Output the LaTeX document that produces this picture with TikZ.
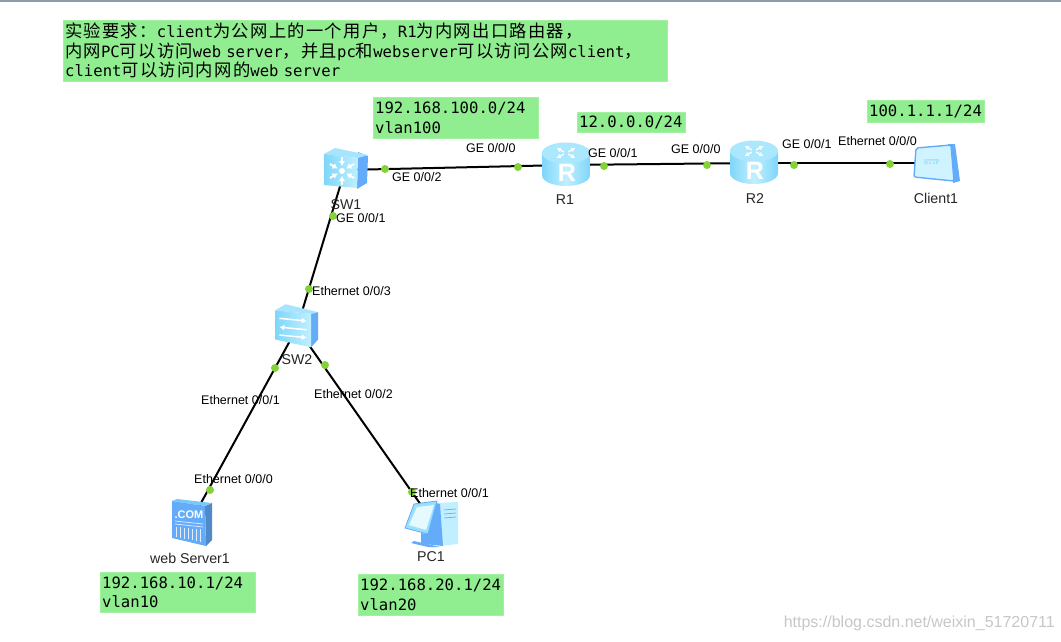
\documentclass[tikz,border=0pt]{standalone}
\usepackage{fontspec}
\setmainfont{Liberation Sans}
\newfontfamily\monof[WordSpace={1,0,0}]{DejaVu Sans Mono}
\newfontfamily\cjk[Kerning=Off,LetterSpace=7.5]{Noto Sans CJK SC}
\newcommand{\cj}[1]{{\fontsize{17.3}{19.6}\cjk #1}}
\definecolor{notegreen}{HTML}{90EE90}
\definecolor{dotgreen}{HTML}{84D13A}
\definecolor{iconlight}{HTML}{C0F0FF}
\definecolor{iconmid}{HTML}{7FD6FA}
\definecolor{iconblue}{HTML}{64ACFA}
\definecolor{topline}{HTML}{8C9BA8}
\usetikzlibrary{arrows.meta}
\tikzset{
  x=1pt,y=-1pt,
  note/.style={rectangle,fill=notegreen,draw=notegreen!85!white,line width=0.4pt,anchor=north west,inner xsep=2pt,inner ysep=0pt,align=left,font=\fontsize{15.6}{19.6}\selectfont\monof},
  port/.style={font=\fontsize{12.5}{14}\selectfont,text=black,inner sep=0pt},
  devname/.style={font=\fontsize{14.2}{16}\selectfont,text=black!85,inner sep=0pt},
  device/.style={inner sep=0pt,minimum size=4pt},
  link/.style={line width=2pt,black},
  dot/.style={circle,fill=dotgreen,inner sep=0pt,minimum size=8pt},
  routericon/.pic={
    \shade[left color=iconmid,right color=iconmid,middle color=iconlight]
      (-24,-12) -- (-24,10) .. controls (-24,17) and (-12,21) .. (0,21)
      .. controls (12,21) and (24,17) .. (24,10) -- (24,-12) -- cycle;
    \fill[iconlight!70!iconmid] (0,-12) ellipse [x radius=24,y radius=10.5];
    \foreach \a in {45,135,225,315}
      \draw[white,line width=1.3pt,-{Latex[length=4pt,width=5pt]}] (\a:3 and 1.5) ++(0,-12) -- ++(\a:10 and 5.5);
    \node[white,inner sep=0pt,font=\fontsize{25}{25}\selectfont\bfseries] at (1,8) {R};
  },
  switchicon/.pic={
    \fill[iconblue] (13,-18) -- (23,-14) -- (22,13) -- (12,19) -- cycle;
    \fill[iconlight!60!iconmid] (-21,-16) -- (-10,-22) -- (23,-15) -- (13,-12) -- cycle;
    \shade[left color=iconmid,right color=iconlight] (-21,-16) -- (13,-12) -- (12,18) -- (-21,15) -- cycle;
  }
}
\begin{document}
\begin{tikzpicture}
\useasboundingbox (0,0) rectangle (1061,641);
\fill[white] (0,0) rectangle (1061,641);
\fill[topline] (0,0) rectangle (1061,1.6);
% notes
\node[note,minimum width=604pt,minimum height=61pt,text width=600pt] (req) at (63,20) {\cj{实验要求：}client\cj{为公网上的一个用户，}R1\cj{为内网出口路由器，}\\
\cj{内网}PC\cj{可以访问}web server\cj{，并且}pc\cj{和}webserver\cj{可以访问公网}client\cj{，}\\
client\cj{可以访问内网的}web server};
\node[note,minimum width=165pt,minimum height=41pt,text width=161pt] (n100) at (373,97) {192.168.100.0/24\\vlan100};
\node[note,minimum width=108pt,minimum height=20pt,text width=104pt] (n12) at (577,112) {12.0.0.0/24};
\node[note,minimum width=117pt,minimum height=22pt,text width=113pt] (n1) at (867,100) {100.1.1.1/24};
\node[note,minimum width=155pt,minimum height=40pt,text width=151pt] (n10) at (100,572) {192.168.10.1/24\\vlan10};
\node[note,minimum width=145pt,minimum height=41pt,text width=141pt] (n20) at (358,574) {192.168.20.1/24\\vlan20};
% devices
\node[device] (SW1) at (345,170) {};
\node[device] (SW2) at (297,328) {};
\node[device] (R1) at (566,165) {};
\node[device] (R2) at (754,163) {};
\node[device] (Client1) at (935,163) {};
\node[device] (Web) at (190,523) {};
\node[device] (PC) at (435,525) {};
% connectors
\draw[link] (SW1.center) -- (R1.center);
\draw[link] (R1.center) -- (R2.center);
\draw[link] (R2.center) -- (Client1.center);
\draw[link] (SW1.center) -- (SW2.center);
\draw[link] (SW2.center) -- (Web.center);
\draw[link] (SW2.center) -- (PC.center);
% port dots
\node[dot] (d1) at (385,169) {};
\node[dot] (d2) at (518,167) {};
\node[dot] (d3) at (604,166) {};
\node[dot] (d4) at (707,165) {};
\node[dot] (d5) at (794,165) {};
\node[dot] (d6) at (890,164) {};
\node[dot] (d7) at (333,216) {};
\node[dot] (d8) at (309,289) {};
\node[dot] (d9) at (275,368) {};
\node[dot] (d10) at (325,365) {};
\node[dot] (d11) at (210,490) {};
\node[dot] (d12) at (412,492) {};
% icons
\pic at (R1) {routericon};
\pic at (R2) {routericon};
\pic at (345,170) {switchicon};
\begin{scope}[shift={(342,171)}]
  \foreach \a in {30,90,...,330}
    \draw[white,line width=2pt,{Latex[length=5pt,width=6.5pt]}-] (\a:5) -- (\a:14);
  \fill[white] (0,0) circle (3);
\end{scope}
\begin{scope}[shift={(297,328)},xscale=0.88,yscale=0.88]
  \fill[iconblue] (16,-18) -- (24,-18) -- (24,13) -- (16,22) -- cycle;
  \fill[iconlight!60!iconmid] (-25,-20) -- (-13,-27) -- (24,-18) -- (16,-16) -- cycle;
  \shade[left color=iconmid,right color=iconlight] (-25,-20) -- (16,-16) -- (16,22) -- (-25,13) -- cycle;
  \draw[white,line width=1.5pt,-{Latex[length=5pt,width=6pt]}] (-20,-11) -- (11,-8);
  \draw[white,line width=1.5pt,{Latex[length=5pt,width=6pt]}-] (-20,-1) -- (11,2);
  \draw[white,line width=1.5pt,-{Latex[length=5pt,width=6pt]}] (-20,8) -- (11,11);
\end{scope}
% client
\fill[iconblue] (948,144) -- (955,144) -- (960,181) -- (953,183) -- cycle;
\fill[iconlight!75!white,draw=iconblue,line width=1.4pt,rounded corners=2pt] (916,148) -- (951,145) -- (954,181) -- (914,177) -- cycle;
\node[inner sep=0pt,text=iconmid,font=\fontsize{7.5}{7.5}\selectfont\ttfamily\bfseries] (http) at (932,162) {HTTP};
% server
\fill[iconblue!80!black] (205,506) -- (212,503) -- (212,540) -- (206,546) -- cycle;
\fill[iconmid!70!iconblue] (172,501) -- (177,499) -- (212,503) -- (205,506) -- cycle;
\fill[iconblue] (172,501) -- (205,506) -- (206,546) -- (172,538) -- cycle;
\node[inner sep=0pt,text=white,font=\fontsize{11}{11}\selectfont\bfseries] (com) at (189,515) {.COM};
\draw[white!80!iconblue,line width=0.7pt] (175,521) -- (203,524);
\draw[white!80!iconblue,line width=0.7pt] (175,524) -- (203,527);
\foreach \i in {0,...,6}
  \draw[white!80!iconblue,line width=1pt] (176+4*\i,527+0.4*\i) -- (176+4*\i,537+0.8*\i);
% pc
\fill[iconlight] (437,503) -- (458,502) -- (458,544) -- (440,546) -- cycle;
\draw[iconblue,line width=0.7pt] (444,510) -- (456,509) (444,514) -- (456,513) (444,518) -- (456,517);
\fill[iconblue] (436,503) -- (440,504) -- (443,546) -- (424,544) -- cycle;
\fill[iconmid!60!iconlight,draw=iconblue,line width=0.8pt] (414,504) -- (437,501) -- (428,534) -- (405,528) -- cycle;
\fill[iconlight!40!white] (417,507) -- (434,505) -- (426,530) -- (409,525) -- cycle;
\fill[iconblue] (414,541) -- (440,547) -- (428,547) -- (411,543) -- cycle;
\fill[iconblue] (421,533) -- (428,534) -- (428,545) -- (421,543) -- cycle;
% device names
\node[devname] (lSW1) at (346,205) {SW1};
\node[devname] (lSW2) at (297,360) {SW2};
\node[devname] (lR1) at (565,200) {R1};
\node[devname] (lR2) at (755,199) {R2};
\node[devname] (lC) at (936,198) {Client1};
\node[devname] (lW) at (190,558) {web Server1};
\node[devname] (lP) at (431,557) {PC1};
% port labels
\node[port,anchor=west] (p1) at (392,177) {GE 0/0/2};
\node[port,anchor=west] (p2) at (466,148) {GE 0/0/0};
\node[port,anchor=west] (p3) at (588,153) {GE 0/0/1};
\node[port,anchor=west] (p4) at (671,149) {GE 0/0/0};
\node[port,anchor=west] (p5) at (782,144) {GE 0/0/1};
\node[port,anchor=west] (p6) at (838,141) {Ethernet 0/0/0};
\node[port,anchor=west] (p7) at (336,218) {GE 0/0/1};
\node[port,anchor=west] (p8) at (312,291) {Ethernet 0/0/3};
\node[port,anchor=west] (p9) at (201,400) {Ethernet 0/0/1};
\node[port,anchor=west] (p10) at (314,394) {Ethernet 0/0/2};
\node[port,anchor=west] (p11) at (194,479) {Ethernet 0/0/0};
\node[port,anchor=west] (p12) at (410,493) {Ethernet 0/0/1};
% watermark
\node[inner sep=0pt,anchor=east,text=black!22,font=\fontsize{16}{18}\selectfont] (wm) at (1055,623) {https://blog.csdn.net/weixin\_51720711};
\end{tikzpicture}
\end{document}
